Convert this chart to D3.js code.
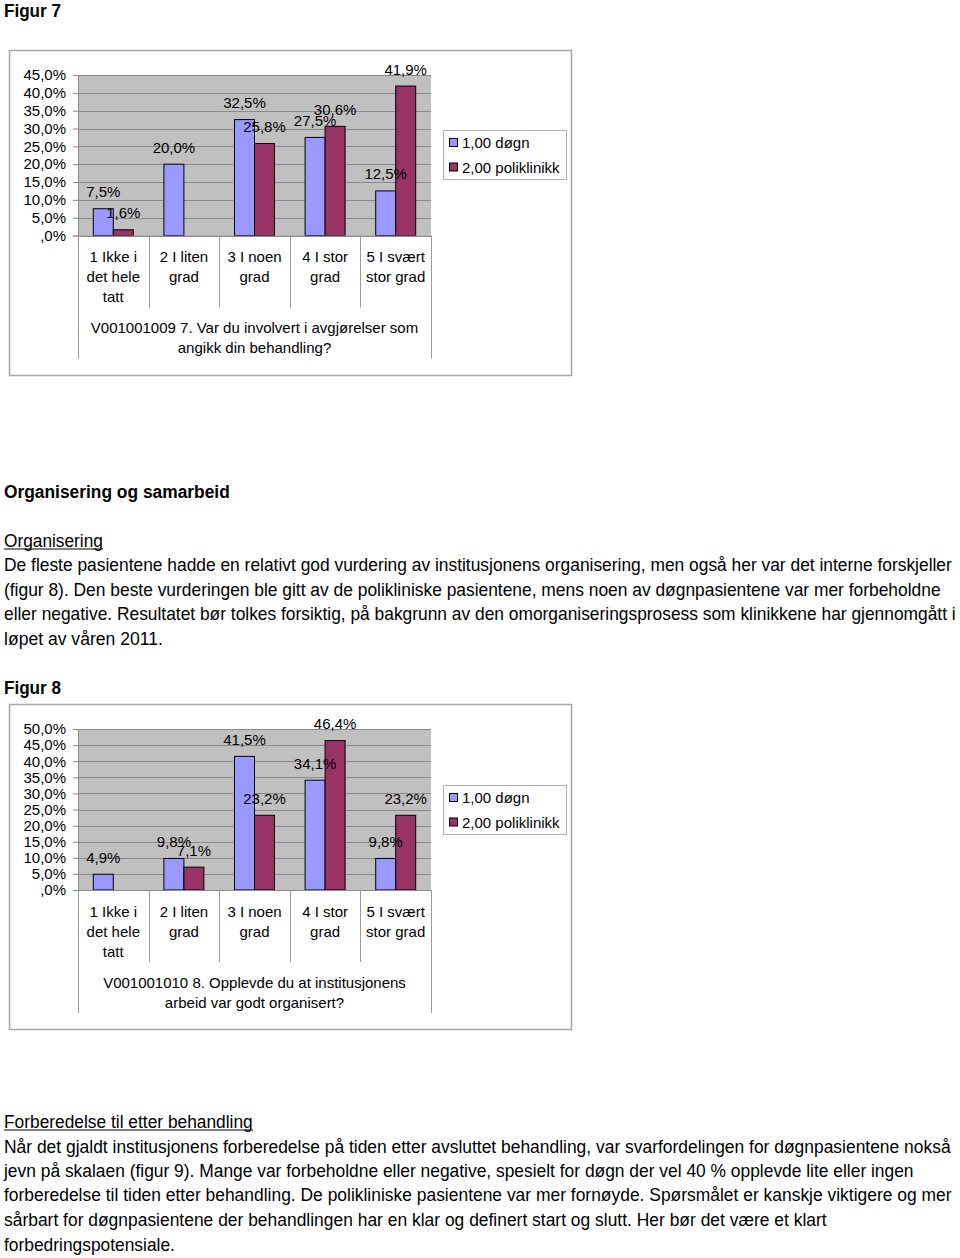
<!DOCTYPE html>
<html><head><meta charset="utf-8">
<script src="https://cdn.jsdelivr.net/npm/d3@7"></script>
<style>body{margin:0;background:#fff}svg{display:block}</style>
</head><body><svg id="page" width="960" height="1258"></svg>
<script>
// ---------- data ----------
const categories = [["1 Ikke i","det hele","tatt"],["2 I liten","grad"],["3 I noen","grad"],["4 I stor","grad"],["5 I svært","stor grad"]];
const seriesNames = ["1,00 døgn","2,00 poliklinikk"];
const fig7Dogn = [7.5, 20.0, 32.5, 27.5, 12.5];
const fig7Poli = [1.6, null, 25.8, 30.6, 41.9];
const fig7Ticks = [0,5,10,15,20,25,30,35,40,45];
const fig7TickLabels = [",0%","5,0%","10,0%","15,0%","20,0%","25,0%","30,0%","35,0%","40,0%","45,0%"];
const fig7Title = ["V001001009 7. Var du involvert i avgjørelser som","angikk din behandling?"];
const fig8Dogn = [4.9, 9.8, 41.5, 34.1, 9.8];
const fig8Poli = [null, 7.1, 23.2, 46.4, 23.2];
const fig8Ticks = [0,5,10,15,20,25,30,35,40,45,50];
const fig8TickLabels = [",0%","5,0%","10,0%","15,0%","20,0%","25,0%","30,0%","35,0%","40,0%","45,0%","50,0%"];
const fig8Title = ["V001001010 8. Opplevde du at institusjonens","arbeid var godt organisert?"];

const pageText = [
  {t:"Figur 7", x:4, y:16.5, w:57, bold:true},
  {t:"Organisering og samarbeid", x:4, y:497.5, w:226, bold:true},
  {t:"Organisering", x:4, y:546.5, w:99, ul:true},
  {t:"De fleste pasientene hadde en relativt god vurdering av institusjonens organisering, men også her var det interne forskjeller", x:4, y:570.5, w:949},
  {t:"(figur 8). Den beste vurderingen ble gitt av de polikliniske pasientene, mens noen av døgnpasientene var mer forbeholdne", x:4, y:595.5, w:938},
  {t:"eller negative. Resultatet bør tolkes forsiktig, på bakgrunn av den omorganiseringsprosess som klinikkene har gjennomgått i", x:4, y:619.5, w:952},
  {t:"løpet av våren 2011.", x:4, y:644.5, w:159},
  {t:"Figur 8", x:4, y:693.5, w:57, bold:true},
  {t:"Forberedelse til etter behandling", x:4, y:1127.5, w:249, ul:true},
  {t:"Når det gjaldt institusjonens forberedelse på tiden etter avsluttet behandling, var svarfordelingen for døgnpasientene nokså", x:4, y:1152.5, w:947},
  {t:"jevn på skalaen (figur 9). Mange var forbeholdne eller negative, spesielt for døgn der vel 40 % opplevde lite eller ingen", x:4, y:1176.5, w:911},
  {t:"forberedelse til tiden etter behandling. De polikliniske pasientene var mer fornøyde. Spørsmålet er kanskje viktigere og mer", x:4, y:1200.5, w:948},
  {t:"sårbart for døgnpasientene der behandlingen har en klar og definert start og slutt. Her bør det være et klart", x:4, y:1225.5, w:823},
  {t:"forbedringspotensiale.", x:4, y:1250.5, w:171}
];

// ---------- drawing ----------
const svg = d3.select("#page");
svg.append("rect").attr("width",960).attr("height",1258).attr("fill","#fff");
const FONT = "'Liberation Sans', Arial, Helvetica, sans-serif";
const colors = ["#9999ff","#993366"];
const fmt = d3.formatLocale({decimal:",", thousands:" ", grouping:[3], currency:["",""]});
const pct = v => fmt.format(".1f")(v) + "%";

// body text (condensed by horizontal scaling to match the narrow original face)
pageText.forEach(d => {
  const t = svg.append("text").attr("x", 0).attr("y", 0)
    .attr("font-family", FONT)
    .attr("font-size", d.bold ? 19 : 18.5)
    .attr("font-weight", d.bold ? "bold" : "normal")
    .attr("fill","#000").text(d.t);
  const len = t.node().getComputedTextLength();
  t.attr("transform", `translate(${d.x},${d.y}) scale(${d.w/len},1)`);
  if (d.ul) svg.append("line").attr("x1", d.x).attr("x2", d.x + d.w)
    .attr("y1", d.y + 2.5).attr("y2", d.y + 2.5).attr("stroke","#000").attr("stroke-width",1.2);
});

function drawChart(cfg) {
  const g = svg.append("g");
  g.append("rect").attr("x", cfg.box[0]+0.5).attr("y", cfg.box[1]+0.5)
    .attr("width", cfg.box[2]).attr("height", cfg.box[3])
    .attr("fill","#fff").attr("stroke","#a6a6a6").attr("stroke-width",1.5);

  const x = d3.scaleBand().domain(d3.range(categories.length)).range([cfg.left, cfg.right]);
  const xs = d3.scaleBand().domain([0,1]).range([0, x.bandwidth()]).paddingOuter(0.765);
  const y = d3.scaleLinear().domain([0, d3.max(cfg.ticks)]).range([cfg.bottom, cfg.top]);

  g.append("rect").attr("x", cfg.left).attr("y", cfg.top)
    .attr("width", cfg.right - cfg.left).attr("height", cfg.bottom - cfg.top).attr("fill","#c0c0c0");
  g.selectAll(".grid").data(cfg.ticks).join("line")
    .attr("x1", cfg.left).attr("x2", cfg.right)
    .attr("y1", d => Math.round(y(d)) + 0.5).attr("y2", d => Math.round(y(d)) + 0.5)
    .attr("stroke","#8a8a8a").attr("stroke-width",1);

  const yAxis = d3.axisLeft(y).tickValues(cfg.ticks).tickSize(5).tickPadding(7)
    .tickFormat((d,i) => cfg.tickLabels[i]);
  const ya = g.append("g").attr("transform", `translate(${cfg.left},0)`).call(yAxis);
  ya.select(".domain").attr("stroke","#8a8a8a");
  ya.selectAll(".tick line").attr("stroke","#8a8a8a");
  ya.selectAll(".tick text").attr("font-family", FONT).attr("font-size", 15).attr("fill","#000");

  const series = [cfg.dogn, cfg.poli];
  series.forEach((vals, s) => {
    const data = vals.map((v,i) => ({v, i})).filter(d => d.v !== null);
    g.selectAll(".bar"+s).data(data).join("rect")
      .attr("x", d => x(d.i) + xs(s)).attr("width", xs.bandwidth())
      .attr("y", d => y(d.v)).attr("height", d => y(0) - y(d.v))
      .attr("fill", colors[s]).attr("stroke","#000").attr("stroke-width",1);
  });
  series.forEach((vals, s) => {
    const data = vals.map((v,i) => ({v, i})).filter(d => d.v !== null);
    g.selectAll(".lab"+s).data(data).join("text")
      .attr("x", d => x(d.i) + xs(s) + xs.bandwidth()/2)
      .attr("y", d => y(d.v) - 11.5)
      .attr("text-anchor","middle").attr("font-family", FONT).attr("font-size", 15)
      .attr("fill","#000").text(d => pct(d.v));
  });

  g.append("line").attr("x1", cfg.left).attr("x2", cfg.right)
    .attr("y1", cfg.bottom + 0.5).attr("y2", cfg.bottom + 0.5).attr("stroke","#8a8a8a");
  const bounds = d3.range(categories.length + 1).map(i => i < categories.length ? x(i) : cfg.right);
  g.selectAll(".div").data(bounds).join("line")
    .attr("x1", d => Math.round(d) + 0.5).attr("x2", d => Math.round(d) + 0.5)
    .attr("y1", cfg.bottom)
    .attr("y2", (d,i) => (i === 0 || i === categories.length) ? cfg.bottom + 123 : cfg.bottom + 72)
    .attr("stroke","#9a9a9a").attr("stroke-width",1);

  categories.forEach((lines, i) => {
    lines.forEach((ln, k) => {
      g.append("text").attr("x", x(i) + x.bandwidth()/2).attr("y", cfg.bottom + 26.5 + k*20)
        .attr("text-anchor","middle").attr("font-family", FONT).attr("font-size", 15)
        .attr("fill","#000").text(ln);
    });
  });
  cfg.title.forEach((ln, k) => {
    g.append("text").attr("x", (cfg.left + cfg.right)/2).attr("y", cfg.bottom + 97.5 + k*20)
      .attr("text-anchor","middle").attr("font-family", FONT).attr("font-size", 15)
      .attr("fill","#000").text(ln);
  });

  const lg = g.append("g").attr("transform", `translate(${cfg.legend[0]},${cfg.legend[1]})`);
  lg.append("rect").attr("x",0.5).attr("y",0.5).attr("width",123).attr("height",49)
    .attr("fill","#fff").attr("stroke","#b0b0b0").attr("stroke-width",1);
  seriesNames.forEach((nm, s) => {
    const cy = 12.5 + s*24.5;
    lg.append("rect").attr("x",6.5).attr("y",cy-4).attr("width",8).attr("height",8)
      .attr("fill",colors[s]).attr("stroke","#000").attr("stroke-width",1);
    lg.append("text").attr("x",19).attr("y",cy+5.5).attr("font-family",FONT).attr("font-size",15)
      .attr("fill","#000").text(nm);
  });
}

drawChart({box:[9,50,562,325], left:78, right:431, top:75, bottom:235.5,
  ticks:fig7Ticks, tickLabels:fig7TickLabels, dogn:fig7Dogn, poli:fig7Poli,
  title:fig7Title, legend:[443,130]});
drawChart({box:[9,704,562,325], left:78, right:431, top:729, bottom:890,
  ticks:fig8Ticks, tickLabels:fig8TickLabels, dogn:fig8Dogn, poli:fig8Poli,
  title:fig8Title, legend:[443,785]});
</script></body></html>
